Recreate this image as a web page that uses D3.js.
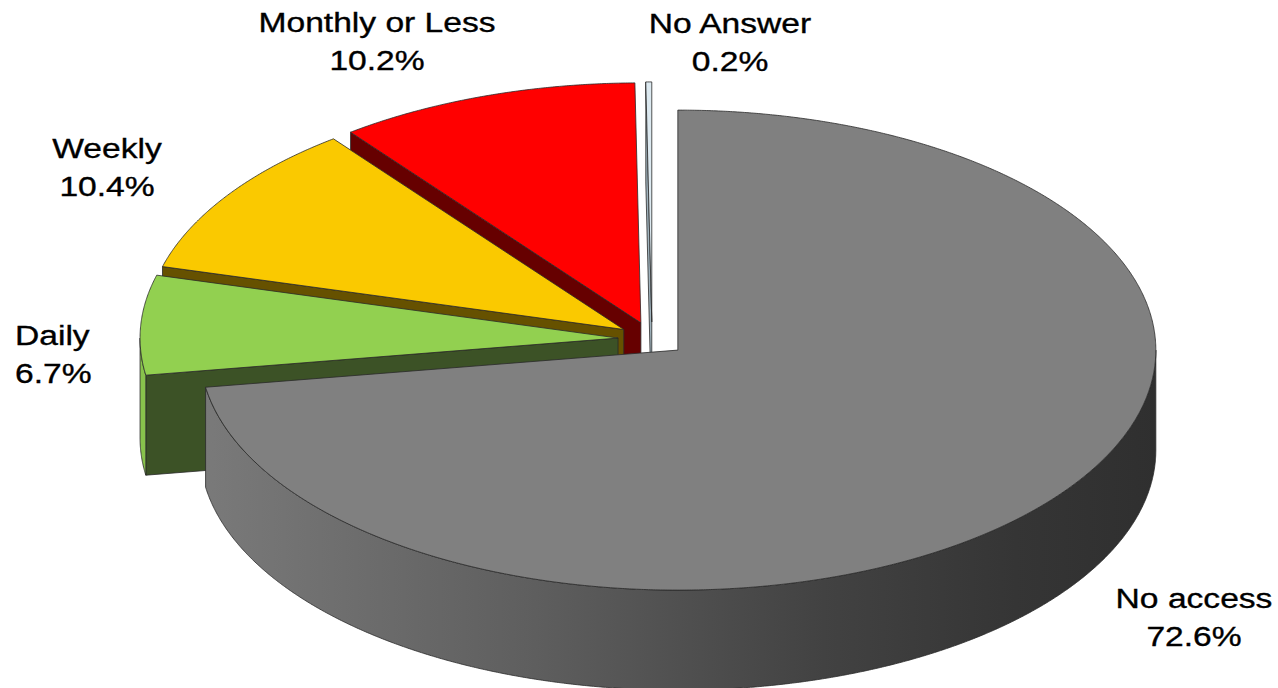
<!DOCTYPE html>
<html>
<head>
<meta charset="utf-8">
<script src="https://cdn.jsdelivr.net/npm/d3@7"></script>
<style>
  html, body { margin: 0; padding: 0; background: #fff; }
  svg { display: block; }
  text { font-family: "Liberation Sans", Arial, sans-serif; }
</style>
</head>
<body>
<svg id="chart" width="1278" height="688"></svg>
<script>
// Internet access frequency shares (%)
const categories = ["No access", "Daily", "Weekly", "Monthly or Less", "No Answer"];
const shares = [72.6, 6.7, 10.4, 10.2, 0.2];

// Face colours per slice: top face, cut face, outer wall
const topColors  = ["#808080", "#92d050", "#fac900", "#ff0000", "#dce9f0"];
const cutColors  = ["#4d4d4d", "#3c5226", "#665100", "#660000", "#9fb2bc"];
const wallColors = [null, "#88c24c", "#e0b400", "#d80000", "#c4d4dc"];

// Label placement (x, first baseline y, anchor)
const labelLayout = {
  "No access":       { x: 1194, y: 608, anchor: "middle" },
  "Daily":           { x: 15,   y: 345, anchor: "start" },
  "Weekly":          { x: 107,  y: 158, anchor: "middle" },
  "Monthly or Less": { x: 377,  y: 32,  anchor: "middle" },
  "No Answer":       { x: 730,  y: 33,  anchor: "middle" }
};

const W = 1278, H = 688;
const CX = 652, CY = 339;      // pie centre on screen
const RX = 478, RY = 240;      // projected ellipse radii
const DEPTH = 100;             // thickness of the disc
const EXPLODE = 34;            // explode distance (horizontal px)

const svg = d3.select("#chart");
const defs = svg.append("defs");

const wallGrad = defs.append("linearGradient")
  .attr("id", "wallGray")
  .attr("gradientUnits", "userSpaceOnUse")
  .attr("x1", 200).attr("y1", 0).attr("x2", 1160).attr("y2", 0);
[[0, "#7a7a7a"], [0.35, "#5e5e5e"], [0.65, "#424242"], [0.85, "#353535"], [1, "#2f2f2f"]]
  .forEach(([o, c]) => wallGrad.append("stop").attr("offset", o).attr("stop-color", c));

const pie = d3.pie().sort(null).value(d => d)(shares);

const pt = (c, a, z) => [c[0] + RX * Math.sin(a), c[1] - RY * Math.cos(a) + z];
const arcPts = (c, a0, a1, z) => {
  const n = Math.max(2, Math.ceil(Math.abs(a1 - a0) / 0.005));
  return d3.range(n + 1).map(i => pt(c, a0 + (a1 - a0) * i / n, z));
};
const line = d3.line().curve(d3.curveLinear);
const closed = pts => line(pts) + "Z";

const STROKE = "#2a2a2a", SW = 0.8;

const sliceData = pie.map((p, i) => {
  const mid = (p.startAngle + p.endAngle) / 2;
  const c = [CX + EXPLODE * Math.sin(mid), CY - EXPLODE * (RY / RX) * Math.cos(mid)];
  return { p, i, c };
});

// back slices first, front slice (No access) last
const drawOrder = [4, 3, 2, 1, 0];
const g = svg.append("g");

drawOrder.forEach(idx => {
  const { p, i, c } = sliceData[idx];
  const a0 = p.startAngle, a1 = p.endAngle;
  const sg = g.append("g").attr("class", "slice");
  const cb = [c[0], c[1] + DEPTH];

  // radial cut faces that face the viewer
  if (Math.sin(a0) < -1e-6) {
    sg.append("path")
      .attr("d", closed([c, pt(c, a0, 0), pt(c, a0, DEPTH), cb]))
      .attr("fill", cutColors[i]).attr("stroke", STROKE).attr("stroke-width", SW)
      .attr("stroke-linejoin", "round");
  }
  if (Math.sin(a1) > 1e-6) {
    sg.append("path")
      .attr("d", closed([c, pt(c, a1, 0), pt(c, a1, DEPTH), cb]))
      .attr("fill", cutColors[i]).attr("stroke", STROKE).attr("stroke-width", SW)
      .attr("stroke-linejoin", "round");
  }

  // outer curved wall on the front half of the ellipse
  const s = Math.max(a0, Math.PI / 2), e = Math.min(a1, 3 * Math.PI / 2);
  if (e > s) {
    const top = arcPts(c, s, e, 0);
    const bot = arcPts(c, s, e, DEPTH).reverse();
    sg.append("path")
      .attr("d", closed(top.concat(bot)))
      .attr("fill", i === 0 ? "url(#wallGray)" : wallColors[i])
      .attr("stroke", STROKE).attr("stroke-width", SW)
      .attr("stroke-linejoin", "round");
  }

  // top face
  sg.append("path")
    .attr("d", closed([c].concat(arcPts(c, a0, a1, 0))))
    .attr("fill", topColors[i]).attr("stroke", STROKE).attr("stroke-width", SW)
    .attr("stroke-linejoin", "round");
});

// labels: category name and percentage
const fmt = d3.format(".1f");
const SX = 1.2, LINE = 38;
const labels = svg.append("g").attr("class", "labels");
categories.forEach((name, i) => {
  const L = labelLayout[name];
  const t = labels.append("g").attr("transform", `translate(${L.x},${L.y}) scale(${SX},1)`);
  const txt = t.append("text")
    .attr("text-anchor", L.anchor)
    .attr("font-size", 28)
    .attr("fill", "#000")
    .attr("stroke", "#000").attr("stroke-width", 0.35);
  txt.append("tspan").attr("x", 0).attr("y", 0).text(name);
  txt.append("tspan").attr("x", 0).attr("y", LINE).text(fmt(shares[i]) + "%");
});
</script>
</body>
</html>
